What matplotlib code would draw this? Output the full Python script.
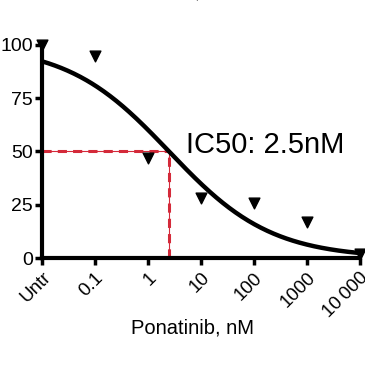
import numpy as np
import matplotlib
matplotlib.use("Agg")
import matplotlib.pyplot as plt

plt.rcParams['font.family'] = ['Liberation Sans', 'DejaVu Sans']

# measured points (Untr plotted at 0.01)
conc = [0.01, 0.1, 1, 10, 100, 1000, 10000]
response = [100, 95, 47, 28, 26, 17, 2]
tick_labels = ['Untr', '0.1', '1', '10', '100', '1000', '10\u2009000']

# fitted dose-response parameters
top = 100
bottom = 0
ic50 = 2.5
hill = 0.45

fig = plt.figure(figsize=(3.65, 3.65), dpi=100)
ax = fig.add_axes([0.115, 0.293, 0.871, 0.584])

xs = np.logspace(-2, 4, 300)
fit = bottom + (top - bottom) / (1 + (xs / ic50) ** hill)
ax.plot(xs, fit, color='black', lw=3.2, zorder=3)

ax.scatter(conc, response, marker='v', s=60, color='black', zorder=4, clip_on=False)

# IC50 guide lines
red = '#d42a3a'
ax.plot([0.01, ic50], [50, 50], color=red, lw=0.8, zorder=2)
ax.plot([0.01, ic50], [50, 50], color=red, lw=2.2, ls=(0, (3, 2)), zorder=2)
ax.plot([ic50, ic50], [0, 50], color=red, lw=0.8, zorder=2)
ax.plot([ic50, ic50], [0, 50], color=red, lw=2.2, ls=(0, (3, 2)), zorder=2)

ax.text(5.3, 53, 'IC50: 2.5nM', fontsize=21, ha='left', va='center')

ax.set_xscale('log')
ax.set_xlim(0.01, 10000)
ax.set_ylim(0, 100)
ax.set_yticks([0, 25, 50, 75, 100])
ax.set_xticks(conc)
ax.set_xticklabels(tick_labels, rotation=45, ha='right', va='top',
                   rotation_mode='anchor')
ax.xaxis.set_minor_locator(matplotlib.ticker.LogLocator(base=10, subs=np.arange(2, 10)))
ax.xaxis.set_minor_formatter(matplotlib.ticker.NullFormatter())

for side in ['top', 'right']:
    ax.spines[side].set_visible(False)
for side in ['left', 'bottom']:
    ax.spines[side].set_linewidth(3)

ax.tick_params(axis='both', which='major', length=5, width=2.5, pad=1.5)
ax.tick_params(axis='y', labelsize=14)
ax.tick_params(axis='x', labelsize=13.5, pad=3)
ax.tick_params(axis='x', which='minor', length=3.5, width=2.5)

ax.set_xlabel('Ponatinib, nM', fontsize=14.5)
ax.xaxis.set_label_coords(0.475, -0.282)

fig.text(0.54, 1.005, ',', fontsize=14, ha='center', va='baseline')

fig.savefig('out.png', dpi=100)
